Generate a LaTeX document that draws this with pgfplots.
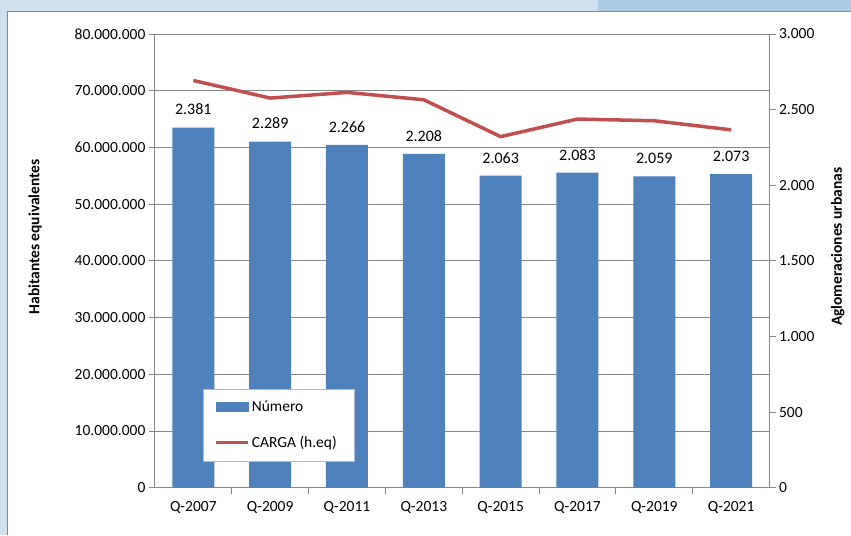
\documentclass[border=0pt]{standalone}
\usepackage{pgfplots}
\pgfplotsset{compat=1.18}
\usepackage{fontspec}
\setmainfont{Carlito}
\definecolor{barblue}{HTML}{4F81BD}
\definecolor{linered}{HTML}{C0504D}
\definecolor{axgrey}{HTML}{868686}
\definecolor{bglight}{HTML}{CFE1EF}
\definecolor{bgdark}{HTML}{ABCAE3}
\definecolor{legbord}{HTML}{A6BCD6}
\newcommand{\cf}{\fontsize{15.5}{18}\selectfont}
\pgfplotsset{
  /pgf/number format/.cd, fixed, precision=0, 1000 sep={.}, assume math mode=true,
  /pgfplots/.cd,
  every axis/.append style={font=\cf},
  common/.style={
    at={(155pt,47pt)}, anchor=south west,
    width=615pt, height=454pt, scale only axis,
    xmin=-0.5, xmax=7.5,
    scaled y ticks=false,
    axis line style={axgrey, line width=0.9pt},
    tick style={axgrey, line width=0.9pt},
    tick align=outside, major tick length=6pt,
    clip=false,
  },
}
\pgfplotstableread{
x carga
0 71800000
1 68700000
2 69700000
3 68400000
4 61900000
5 65000000
6 64700000
7 63100000
}\cargatab
\pgfplotstableread{
x num
0 2381
1 2289
2 2266
3 2208
4 2063
5 2083
6 2059
7 2073
}\numtab
\begin{document}
\begin{tikzpicture}[x=1pt,y=1pt]
\fill[bglight] (0,0) rectangle (851,535);
\fill[bgdark] (598,523) rectangle (851,535);
\fill[white] (8,0) rectangle (851,523);
\draw[axgrey, line width=1pt] (8,0) -- (8,523) -- (851,523);

% axis 1: left scale, grid, x labels
\begin{axis}[common,
  ymin=0, ymax=80000000,
  axis y line*=left, axis x line*=bottom,
  ytick={0,10000000,20000000,30000000,40000000,50000000,60000000,70000000,80000000},
  ymajorgrids, grid style={axgrey, line width=0.9pt},
  xtick={0,1,2,3,4,5,6,7},
  xticklabels={Q-2007,Q-2009,Q-2011,Q-2013,Q-2015,Q-2017,Q-2019,Q-2021},
  x tick style={draw=none},
  xticklabel style={yshift=-4pt},
  ylabel={\textbf{Habitantes equivalentes}},
  ylabel style={at={(axis description cs:-0.195,0.553)}, anchor=center},
]
\end{axis}

% axis 2: bars on right scale
\begin{axis}[common,
  ymin=0, ymax=3000,
  axis y line*=right, axis x line*=bottom,
  ytick={0,500,1000,1500,2000,2500,3000},
  xtick={0.5,1.5,2.5,3.5,4.5,5.5,6.5},
  xticklabels={},
  ybar, bar width=42pt,
  nodes near coords,
  every node near coord/.append style={font=\fontsize{16}{18}\selectfont, text=black, yshift=9pt},
  ylabel={\textbf{Aglomeraciones urbanas}},
  ylabel style={at={(axis description cs:1.111,0.531)}, anchor=center},
]
\addplot[fill=barblue, draw=none] table[x=x, y=num] {\numtab};
\end{axis}

% axis 3: line on left scale, legend
\begin{axis}[common,
  ymin=0, ymax=80000000,
  hide axis,
  legend style={at={(axis description cs:0.078,0.218)}, anchor=north west,
    draw=legbord, line width=0.9pt, fill=white, font=\cf,
    inner xsep=11pt, inner ysep=11pt, row sep=21pt,
    nodes={inner xsep=2pt, inner ysep=1pt},
    cells={anchor=west}},
]
\addlegendimage{legend image code/.code={\fill[barblue] (0pt,-4.5pt) rectangle (32pt,4.5pt);}}
\addlegendentry{Número}
\addplot[linered, line width=3.5pt, mark=none,
  legend image code/.code={\draw[linered, line width=3.5pt] (0pt,0pt) -- (32pt,0pt);}]
  table[x=x, y=carga] {\cargatab};
\addlegendentry{CARGA (h.eq)\kern5pt}
\end{axis}
\end{tikzpicture}
\end{document}
